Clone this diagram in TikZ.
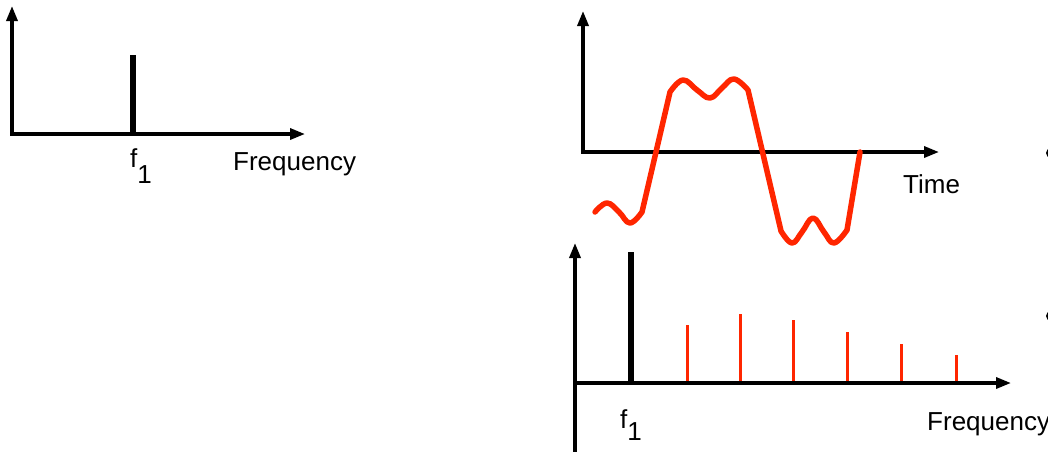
\documentclass[tikz,border=0pt]{standalone}
\usepackage{fontspec}
\setmainfont{Liberation Sans}
\usetikzlibrary{arrows.meta}
\definecolor{wavered}{RGB}{255,38,0}
\begin{document}
\begin{tikzpicture}[x=1pt,y=-1pt,
  axis/.style={line width=3.3pt,-{Triangle[length=15pt,width=11pt]}},
  fund/.style={line width=6pt},
  harm/.style={line width=3pt,draw=wavered},
  wave/.style={line width=5.5pt,draw=wavered,line join=round,line cap=round},
  lbl/.style={inner sep=0pt,anchor=base west,font=\fontsize{26}{30}\selectfont},
  dot/.style={fill=black,draw=none}]
\useasboundingbox (0,0) rectangle (1048,451);
% ---------- left panel ----------
\coordinate (lo) at (12,134);
\coordinate (ly) at (12,6);
\coordinate (lx) at (305,134);
\draw[axis] ([yshift=1.6pt]lo) -- (ly);
\draw[axis] ([xshift=-1.6pt]lo) -- (lx);
\coordinate (ls0) at (133,132);
\coordinate (ls1) at (133,55);
\draw[fund] (ls0) -- (ls1);
\node[lbl] (lf) at (130,167) {f\raisebox{-16pt}{1}};
\node[lbl] (lfreq) at (233,170) {Frequency};
% ---------- right top panel ----------
\coordinate (to) at (583,152);
\coordinate (ty) at (583,11);
\coordinate (tx) at (939,152);
\draw[axis] ([yshift=1.6pt]to) -- (ty);
\draw[axis] ([xshift=-1.6pt]to) -- (tx);
\node[lbl] (time) at (903,193) {Time};
\draw[wave] plot[smooth,tension=0.7] coordinates {(595,212) (607,203) (619,212) (630,223) (642,212)}
  -- plot[smooth,tension=0.7] coordinates {(670,92) (683,80) (697,90) (710,98) (722,88) (734,79) (748,90)}
  -- plot[smooth,tension=0.7] coordinates {(781,231) (792,243) (802,232) (813,218) (824,232) (834,243) (847,230)}
  -- (860,152);
% ---------- right bottom panel ----------
\coordinate (bo) at (575,383);
\coordinate (bb) at (575,453);
\coordinate (by) at (575,243);
\coordinate (bx) at (1011,383);
\draw[axis] (bb) -- (by);
\draw[axis] ([xshift=-1.6pt]bo) -- (bx);
\coordinate (bs0) at (631,381);
\coordinate (bs1) at (631,252);
\draw[fund] (bs0) -- (bs1);
\foreach \x/\t [count=\i] in {687/325,740/314,793/320,847/332,901/344,956/355}{
  \coordinate (h\i a) at (\x,381);
  \coordinate (h\i b) at (\x,\t);
  \draw[harm] (h\i a) -- (h\i b);
}
\node[lbl] (bf) at (620,428) {f\raisebox{-12pt}{1}};
\node[lbl] (bfreq) at (927,430) {Frequency};
% ---------- clipped bullets at right edge ----------
\fill[dot] (1051,153) circle (5);
\fill[dot] (1051,316) circle (5);
\end{tikzpicture}
\end{document}
